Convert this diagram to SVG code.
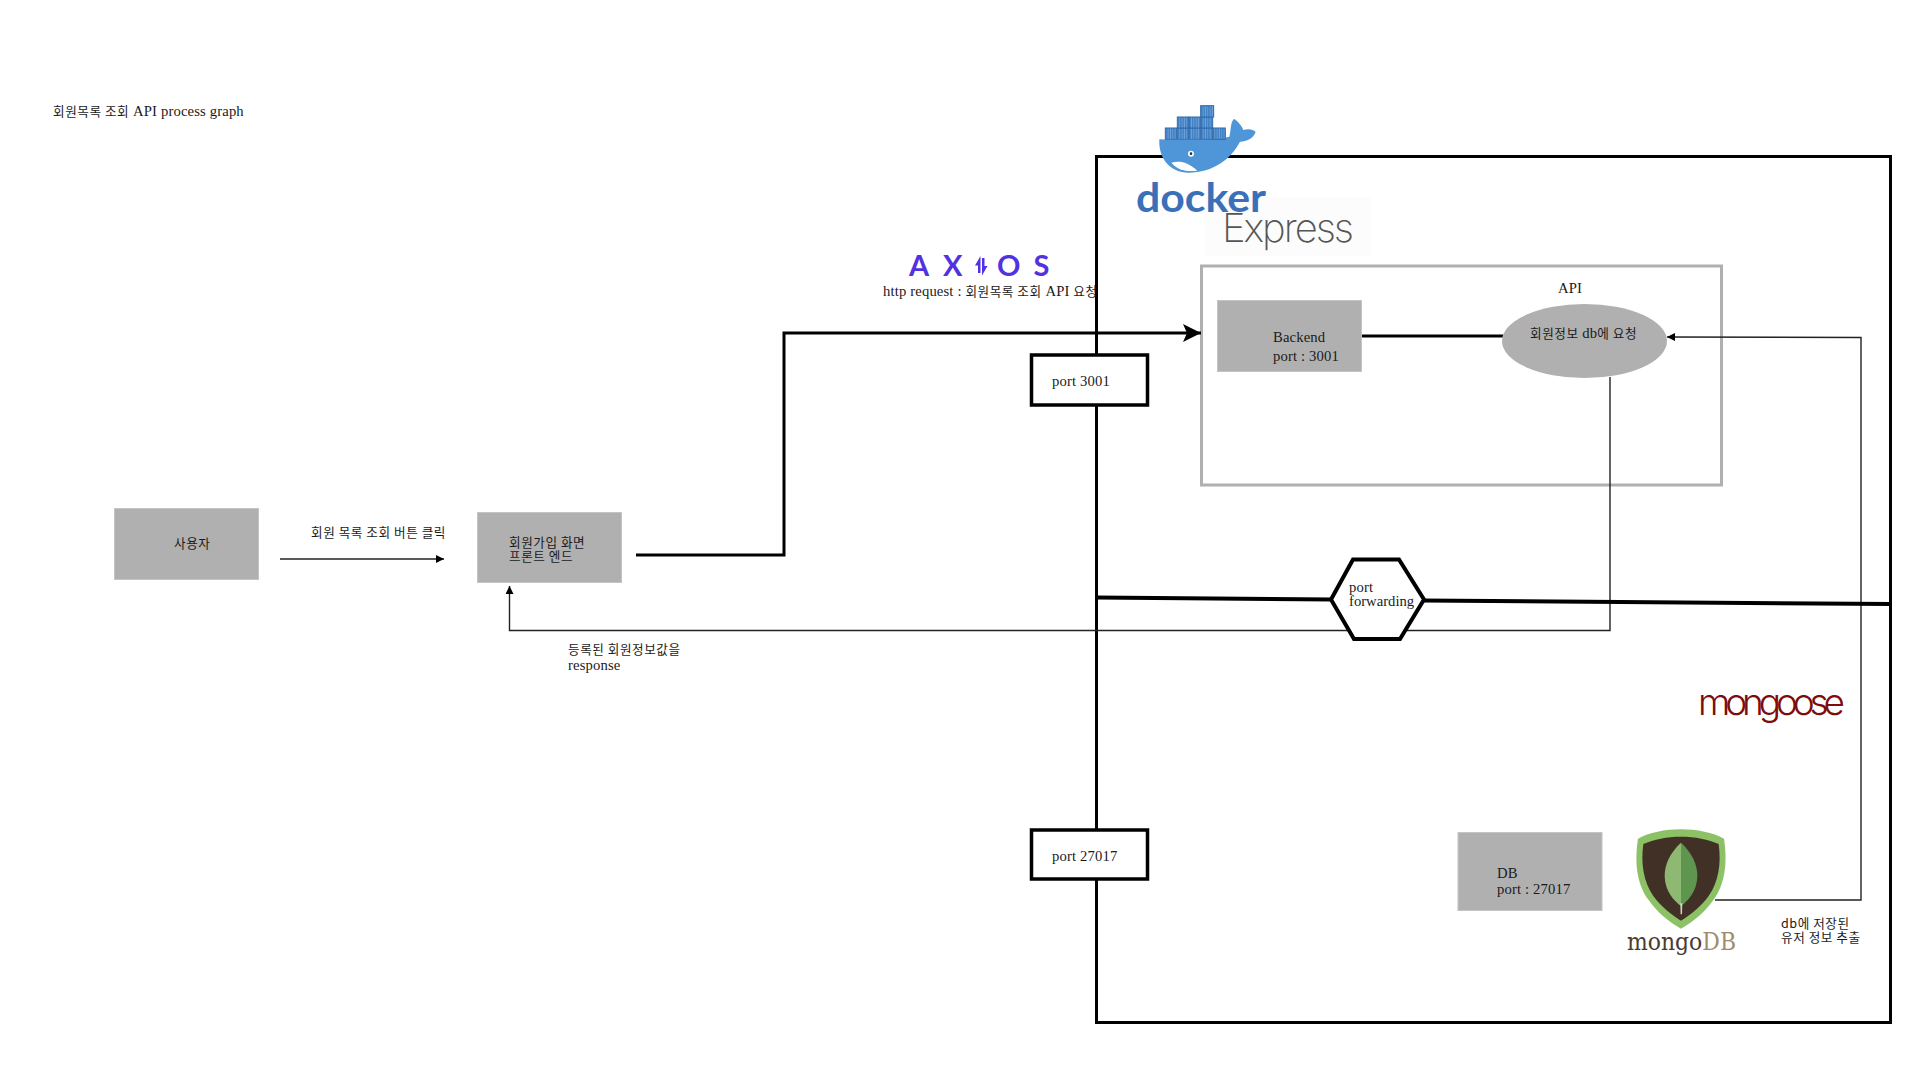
<svg xmlns="http://www.w3.org/2000/svg" width="1920" height="1080" viewBox="0 0 1920 1080">
<style>
text{font-family:"Liberation Serif","Noto Sans CJK KR",serif;font-size:14.67px;letter-spacing:.15px;fill:#1a1a1a}
.k{font-size:12.6px;letter-spacing:.55px;font-family:"Noto Sans CJK KR","Liberation Serif",serif}
.box{fill:#b0b0b0;stroke:#c4c4c4;stroke-width:1}
.port{fill:#fff;stroke:#000;stroke-width:3.5}
.thin{fill:none;stroke:#222;stroke-width:1.4}
.thick{fill:none;stroke:#000;stroke-width:3}
.ax{font-family:Lato,"Liberation Sans",sans-serif;font-weight:700;font-size:29px;letter-spacing:0;fill:#5232e0}
</style>
<defs>
<marker id="small" markerUnits="userSpaceOnUse" markerWidth="10" markerHeight="10" refX="8" refY="4" orient="auto"><path d="M0 0L8 4L0 8Z" fill="#000"/></marker>
<marker id="big" markerUnits="userSpaceOnUse" markerWidth="20" markerHeight="20" refX="18" refY="9" orient="auto"><path d="M0 0L18 9L0 18L4 9Z" fill="#000"/></marker>
<pattern id="slats" patternUnits="userSpaceOnUse" width="7" height="10"><rect width="7" height="10" fill="#3f7fc4"/><rect x="2" width="2" height="10" fill="#7fb0e0"/></pattern>
</defs>
<rect width="1920" height="1080" fill="#fff"/>
<g id="title"><text x="53" y="116"><tspan class="k">회원목록 조회</tspan> API process graph</text></g>
<g id="docker-host"><rect x="1096.5" y="156.5" width="794" height="866" fill="none" stroke="#000" stroke-width="3"/></g>
<g id="express-logo">
<rect x="1205" y="197" width="166" height="59" fill="#fcfcfc"/>
<text x="1222" y="242" textLength="132" style="font-family:Inter,'Liberation Sans',sans-serif;font-weight:200;font-size:40px;letter-spacing:0;fill:#555">Express</text>
</g>
<g id="api-box"><rect x="1201.5" y="266" width="520" height="219" fill="none" stroke="#b0b0b0" stroke-width="3"/></g>
<g id="connectors">
<path class="thin" d="M280 559H444" marker-end="url(#small)"/>
<path class="thick" d="M636 555H784V333H1201" marker-end="url(#big)"/>
<path class="thick" d="M1362 336H1503"/>
<path class="thin" d="M1610 377V630.5H509.5V586" marker-end="url(#small)"/>
<path class="thin" d="M1715 900H1861V337.5L1667 337" marker-end="url(#small)"/>
<path d="M1096 597.500L1332 599.500M1422 600.500L1891 604" fill="none" stroke="#000" stroke-width="4"/>
</g>
<g id="user"><rect class="box" x="114.500" y="508.500" width="144" height="71"/><text class="k" x="174" y="548">사용자</text></g>
<text class="k" x="311" y="537" textLength="135">회원 목록 조회 버튼 클릭</text>
<g id="frontend"><rect class="box" x="477.500" y="512.500" width="144" height="70"/><text class="k" x="509" y="547">회원가입 화면</text><text class="k" x="509" y="561">프론트 엔드</text></g>
<text class="k" x="568" y="654">등록된 회원정보값을</text>
<text x="568" y="670">response</text>
<g id="axios-logo">
<text class="ax" x="909" y="276">A</text>
<text class="ax" x="943" y="276">X</text>
<text class="ax" x="997" y="276">O</text>
<text class="ax" x="1033.500" y="276">S</text>
<path d="M980.500 256L975 265.500H978V273H980.500ZM982 258H984.500V266H987.500L982 275.500Z" fill="#5232e0"/>
</g>
<text x="883" y="296">http request : <tspan class="k">회원목록 조회</tspan> API <tspan class="k">요청</tspan></text>
<g id="port-3001"><rect class="port" x="1031.500" y="355" width="116" height="50"/><text x="1052" y="386">port 3001</text></g>
<g id="port-27017"><rect class="port" x="1031.500" y="830" width="116" height="49"/><text x="1052" y="861">port 27017</text></g>
<g id="backend"><rect class="box" x="1217.500" y="300.500" width="144" height="71"/><text x="1273" y="342">Backend</text><text x="1273" y="361">port : 3001</text></g>
<g id="api-node"><text x="1558" y="293">API</text><ellipse cx="1584.500" cy="341" rx="82.500" ry="37" fill="#b0b0b0"/><text x="1530" y="338"><tspan class="k">회원정보</tspan> db<tspan class="k">에 요청</tspan></text></g>
<g id="port-forwarding"><path d="M1353 559.500H1399L1424 599.500L1400 639H1354L1331 599.500Z" fill="#fff" stroke="#000" stroke-width="4"/><text x="1349" y="592">port</text><text x="1349" y="606" style="letter-spacing:0">forwarding</text></g>
<g id="db"><rect class="box" x="1458" y="832.500" width="144" height="78"/><text x="1497" y="878">DB</text><text x="1497" y="894">port : 27017</text></g>
<g id="docker-logo">
<g transform="translate(1090 90) scale(.3333)">
<path d="M208 148C300 152 380 150 418 140C424 120 420 100 432 86C446 96 456 108 460 120C475 116 490 118 497 126C490 146 470 154 450 155C425 205 370 248 295 248C240 248 205 205 208 148Z" fill="#4f96d8"/>
<path d="M244 218C270 212 290 214 322 242C290 246 262 240 244 218Z" fill="#fff"/>
<circle cx="303" cy="191" r="9" fill="#fff"/><circle cx="303" cy="191" r="4" fill="#24303c"/>
<g fill="url(#slats)" stroke="#2f6aa8" stroke-width="3">
<rect x="226" y="114" width="34" height="34"/><rect x="262" y="114" width="34" height="34"/><rect x="298" y="114" width="34" height="34"/><rect x="334" y="114" width="34" height="34"/><rect x="370" y="114" width="36" height="34"/>
<rect x="262" y="81" width="34" height="33"/><rect x="298" y="81" width="34" height="33"/><rect x="334" y="81" width="34" height="33"/>
<rect x="332" y="47" width="39" height="34"/>
</g>
</g>
<text x="1136" y="212" textLength="130" lengthAdjust="spacingAndGlyphs" style="font:700 41px Lato,'Liberation Sans',sans-serif;letter-spacing:0;fill:#3b70b8">docker</text>
</g>
<g id="mongoose-logo"><text x="1698" y="715" textLength="147" style="font-family:Inter,'Liberation Sans',sans-serif;font-weight:300;font-size:37px;letter-spacing:0;fill:#7d0c0c">mongoose</text></g>
<g id="mongodb-logo">
<g transform="translate(1600 670) scale(.3333)">
<path d="M243 478C290 478 340 488 372 506C382 570 378 640 340 690C318 722 282 755 243 776C204 755 168 722 146 690C108 640 104 570 114 506C146 488 196 478 243 478Z" fill="#8cc265"/>
<path d="M243 500C285 500 325 508 356 522C364 580 356 635 326 678C304 708 274 733 243 752C212 733 182 708 160 678C130 635 122 580 130 522C161 508 201 500 243 500Z" fill="#413026"/>
<path d="M243 518C210 548 193 585 194 620C196 665 222 692 243 708Z" fill="#8fb872"/>
<path d="M243 518C276 548 293 585 292 620C290 665 264 692 243 708Z" fill="#5f964f"/>
<path d="M241 700H247L246 733H242Z" fill="#d8d4c0"/>
</g>
<text x="1627" y="950" textLength="109" lengthAdjust="spacingAndGlyphs" style="font:400 24px 'DejaVu Serif','Liberation Serif',serif;letter-spacing:0;fill:#4b3b31">mongo<tspan style="fill:#a08c6c">DB</tspan></text>
</g>
<text class="k" x="1781" y="928">db<tspan>에 저장된</tspan></text>
<text class="k" x="1781" y="942">유저 정보 추출</text>
</svg>
